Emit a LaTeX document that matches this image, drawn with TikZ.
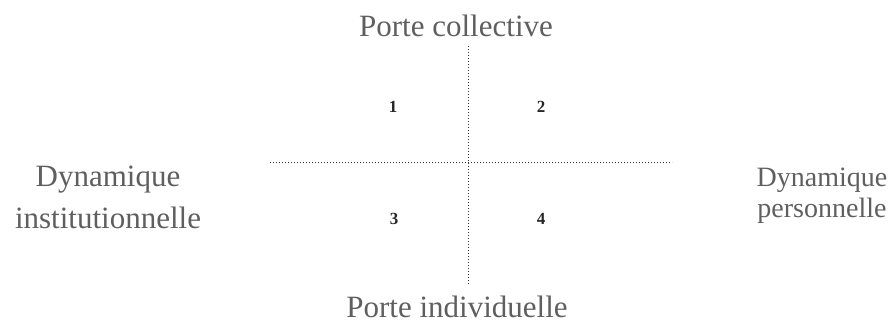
\documentclass[tikz,border=0pt]{standalone}
\usepackage{fontspec}
\setmainfont{Liberation Serif}
\definecolor{txtgray}{HTML}{5F5F5F}
\definecolor{linegray}{HTML}{303030}
\tikzset{
  lbl/.style={anchor=base, inner sep=0pt, text=txtgray, font=\fontsize{31}{36}\selectfont},
  lblsmall/.style={anchor=base, inner sep=0pt, text=txtgray, font=\fontsize{28}{32}\selectfont},
  num/.style={anchor=base, inner sep=0pt, text=black!85, font=\fontsize{17}{20}\selectfont\bfseries},
  axis/.style={draw=linegray, line width=0.9pt, dash pattern=on 0.9pt off 2.1pt}
}
\begin{document}
\begin{tikzpicture}[x=1pt,y=-1pt]
\useasboundingbox (0,0) rectangle (891,323);
\coordinate (vtop) at (468,46);
\coordinate (vbot) at (468,285);
\coordinate (hleft) at (270,162);
\coordinate (hright) at (672,162);
\draw[axis] (vtop) -- (vbot);
\draw[axis] (hleft) -- (hright);
\node[lbl] (pc) at (456,37) {Porte collective};
\node[lbl] (pi) at (457,317) {Porte individuelle};
\node[lbl] (di1) at (108,187) {Dynamique};
\node[lbl] (di2) at (108,229) {institutionnelle};
\node[lblsmall] (dp1) at (822,187) {Dynamique};
\node[lblsmall] (dp2) at (822,218) {personnelle};
\node[num] (n1) at (393,113) {1};
\node[num] (n2) at (541,113) {2};
\node[num] (n3) at (394,224) {3};
\node[num] (n4) at (541,224) {4};
\end{tikzpicture}
\end{document}
